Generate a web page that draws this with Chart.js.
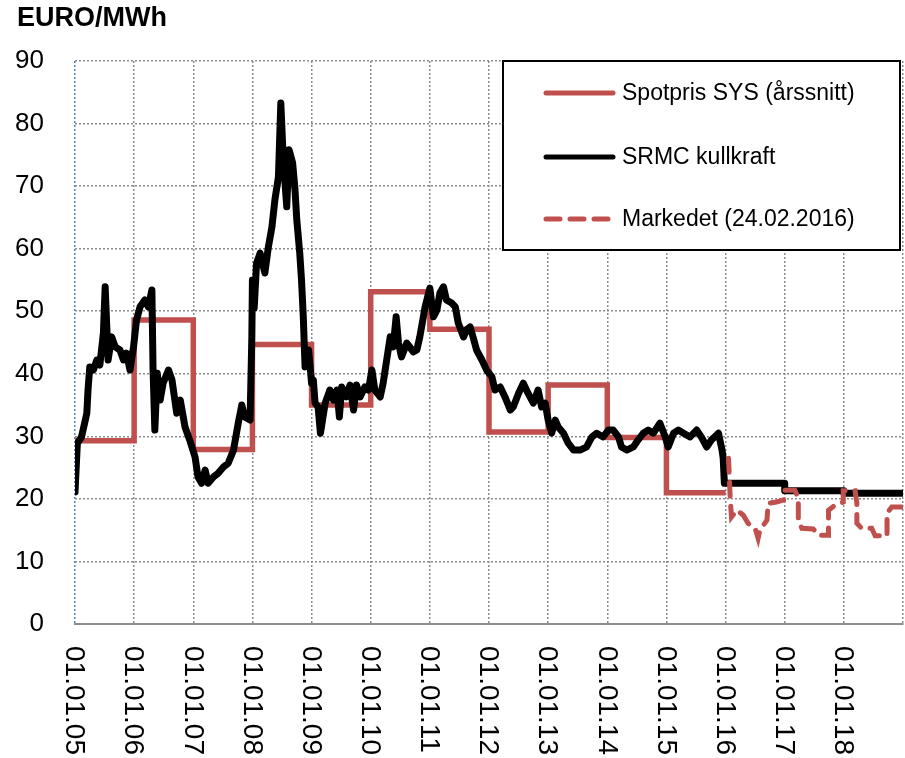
<!DOCTYPE html>
<html>
<head>
<meta charset="utf-8">
<script src="https://cdn.jsdelivr.net/npm/chart.js@4.4.1/dist/chart.umd.min.js"></script>
<style>
  html, body { margin: 0; padding: 0; background: #fff; }
</style>
</head>
<body>
<canvas id="priceChart" width="905" height="758"></canvas>
<script>
// Yearly average system price (value holds through the year)
const spotYears = [2005, 2006, 2007, 2008, 2009, 2010, 2011, 2012, 2013, 2014, 2015, 2016];
const spotValues = [29.3, 48.6, 27.9, 44.7, 35.0, 53.1, 47.1, 30.7, 38.2, 29.8, 21.0, 21.0];

// SRMC coal power (decimal year, EUR/MWh)
const srmcYears = [
  2005.00, 2005.04, 2005.11, 2005.20, 2005.22, 2005.25, 2005.31, 2005.37, 2005.42, 2005.48,
  2005.51, 2005.56, 2005.62, 2005.68, 2005.76, 2005.82, 2005.87, 2005.93, 2005.99, 2006.04,
  2006.10, 2006.18, 2006.24, 2006.30, 2006.32, 2006.35, 2006.39, 2006.44, 2006.49, 2006.58,
  2006.64, 2006.72, 2006.78, 2006.86, 2006.94, 2007.03, 2007.08, 2007.14, 2007.20, 2007.25,
  2007.34, 2007.42, 2007.51, 2007.59, 2007.68, 2007.76, 2007.82, 2007.87, 2007.96, 2007.99,
  2008.00, 2008.03, 2008.07, 2008.13, 2008.21, 2008.27, 2008.33, 2008.38, 2008.44, 2008.48,
  2008.52, 2008.58, 2008.62, 2008.68, 2008.72, 2008.75, 2008.80, 2008.83, 2008.86, 2008.89,
  2008.92, 2008.95, 2009.00, 2009.03, 2009.06, 2009.11, 2009.15, 2009.23, 2009.31, 2009.37,
  2009.43, 2009.47, 2009.51, 2009.59, 2009.65, 2009.71, 2009.76, 2009.82, 2009.90, 2009.96,
  2010.02, 2010.07, 2010.16, 2010.21, 2010.27, 2010.33, 2010.38, 2010.43, 2010.47, 2010.52,
  2010.61, 2010.66, 2010.72, 2010.78, 2010.83, 2010.92, 2011.00, 2011.06, 2011.12, 2011.17,
  2011.23, 2011.28, 2011.37, 2011.43, 2011.48, 2011.57, 2011.62, 2011.68, 2011.73, 2011.79,
  2011.88, 2011.96, 2012.05, 2012.10, 2012.19, 2012.27, 2012.36, 2012.41, 2012.50, 2012.58,
  2012.66, 2012.75, 2012.83, 2012.89, 2012.95, 2013.00, 2013.06, 2013.12, 2013.17, 2013.26,
  2013.34, 2013.43, 2013.54, 2013.65, 2013.74, 2013.82, 2013.93, 2014.02, 2014.10, 2014.19,
  2014.24, 2014.33, 2014.44, 2014.52, 2014.61, 2014.69, 2014.78, 2014.89, 2014.98, 2015.03,
  2015.12, 2015.20, 2015.29, 2015.40, 2015.51, 2015.59, 2015.68, 2015.76, 2015.88, 2015.94,
  2015.96, 2015.98, 2017.00, 2017.00, 2018.00, 2018.00, 2019.00
];
const srmcValues = [
  21.1, 28.9, 29.9, 33.7, 37.4, 41.1, 40.6, 42.2, 41.4, 46.5,
  53.9, 42.2, 45.9, 44.3, 43.8, 42.2, 43.3, 40.6, 44.3, 48.6,
  50.7, 51.8, 50.7, 53.4, 40.6, 31.0, 40.1, 35.8, 38.5, 40.6,
  39.0, 33.7, 35.8, 31.5, 29.4, 26.7, 23.5, 22.5, 24.6, 22.5,
  23.5, 24.1, 25.1, 25.7, 27.8, 32.1, 35.0, 33.1, 32.6, 45.9,
  55.0, 50.5, 57.7, 59.3, 56.1, 60.3, 63.5, 67.8, 71.5, 83.3,
  74.6, 66.7, 75.8, 73.7, 69.4, 64.6, 59.3, 55.0, 49.1, 41.1,
  42.2, 43.8, 38.5, 39.0, 35.3, 34.7, 30.5, 35.3, 37.4, 35.8,
  37.4, 33.1, 37.9, 36.3, 38.2, 34.2, 38.2, 36.3, 37.9, 37.4,
  40.6, 37.4, 36.3, 38.5, 42.2, 45.9, 44.3, 49.1, 44.9, 42.7,
  44.9, 44.3, 43.5, 43.8, 45.9, 50.7, 53.7, 49.1, 50.2, 52.9,
  53.9, 51.8, 51.3, 50.7, 48.1, 45.9, 47.0, 47.5, 45.9, 43.8,
  42.2, 40.6, 39.5, 37.4, 37.9, 36.3, 34.2, 34.7, 36.9, 38.5,
  36.9, 35.3, 37.4, 34.7, 35.3, 32.6, 30.5, 32.6, 31.5, 30.5,
  28.9, 27.8, 27.8, 28.3, 29.9, 30.5, 29.9, 31.0, 31.0, 29.9,
  28.3, 27.8, 28.3, 29.4, 30.5, 31.0, 30.5, 32.1, 29.9, 28.3,
  30.5, 31.0, 30.5, 29.9, 31.0, 29.9, 28.3, 29.4, 30.5, 27.8,
  26.5, 22.5, 22.5, 21.3, 21.3, 20.9, 20.9
];

// Market forwards as of 24.02.2016
const marketYears = [
  2016.05, 2016.08, 2016.10, 2016.19, 2016.30, 2016.38, 2016.50, 2016.55, 2016.58, 2016.70,
  2016.72, 2016.86, 2016.98, 2017.00, 2017.17, 2017.23, 2017.23, 2017.29, 2017.48, 2017.57,
  2017.74, 2017.74, 2017.85, 2017.99, 2017.99, 2018.19, 2018.22, 2018.22, 2018.30, 2018.47,
  2018.53, 2018.73, 2018.73, 2018.81, 2019.00
];
const marketValues = [
  26.5, 19.8, 17.1, 18.2, 17.4, 16.1, 15.3, 13.7, 15.0, 16.6,
  19.3, 19.5, 19.8, 21.4, 21.4, 20.1, 16.6, 15.3, 15.2, 14.2,
  14.2, 18.2, 19.0, 19.5, 21.3, 21.3, 19.3, 16.1, 15.3, 15.3,
  14.1, 14.1, 17.7, 18.7, 18.7
];

const tickYears = [2005, 2006, 2007, 2008, 2009, 2010, 2011, 2012, 2013, 2014, 2015, 2016, 2017, 2018];
const tickLabels = ['01.01.05', '01.01.06', '01.01.07', '01.01.08', '01.01.09', '01.01.10', '01.01.11',
                    '01.01.12', '01.01.13', '01.01.14', '01.01.15', '01.01.16', '01.01.17', '01.01.18'];

const seriesNames = ['Spotpris SYS (årssnitt)', 'SRMC kullkraft', 'Markedet (24.02.2016)'];
const RED = '#C0504D';
const FONT = '"Liberation Sans", Arial, sans-serif';

const toPoints = (xs, ys) => xs.map((x, i) => ({ x: x, y: ys[i] }));

// Axis title, rotated date labels and the boxed legend
const extrasPlugin = {
    id: 'extras',
    afterDraw(chart) {
        const ctx = chart.ctx;
        const xScale = chart.scales.x;
        const area = chart.chartArea;

        ctx.save();
        ctx.fillStyle = '#000';
        ctx.font = 'bold 27px ' + FONT;
        ctx.textBaseline = 'middle';
        ctx.fillText('EURO/MWh', 17, 19);

        // date labels read top to bottom
        ctx.font = '28px ' + FONT;
        ctx.textAlign = 'left';
        tickYears.forEach((yr, i) => {
            const x = xScale.getPixelForValue(yr);
            ctx.save();
            ctx.translate(x - 1, area.bottom + 22);
            ctx.rotate(Math.PI / 2);
            ctx.fillText(tickLabels[i], 0, 0);
            ctx.restore();
        });

        // legend box
        const bx = 503, by = area.top, bw = 397, bh = 189;
        ctx.fillStyle = '#fff';
        ctx.fillRect(bx, by, bw, bh);
        ctx.lineWidth = 2;
        ctx.strokeStyle = '#000';
        ctx.strokeRect(bx, by, bw, bh);

        const rows = [
            { y: by + 32, color: RED, dash: [] },
            { y: by + 96, color: '#000', dash: [] },
            { y: by + 158, color: RED, dash: [14, 10] }
        ];
        ctx.font = '23px ' + FONT;
        ctx.textAlign = 'left';
        ctx.textBaseline = 'middle';
        rows.forEach((row, i) => {
            ctx.beginPath();
            ctx.lineWidth = 5;
            ctx.lineCap = 'round';
            ctx.strokeStyle = row.color;
            ctx.setLineDash(row.dash);
            ctx.moveTo(546, row.y);
            ctx.lineTo(613, row.y);
            ctx.stroke();
            ctx.setLineDash([]);
            ctx.fillStyle = '#000';
            ctx.fillText(seriesNames[i], 622, row.y + 1);
        });
        ctx.restore();
    }
};

const ctx = document.getElementById('priceChart').getContext('2d');
new Chart(ctx, {
    type: 'line',
    data: {
        datasets: [
            {
                label: seriesNames[2],
                data: toPoints(marketYears, marketValues),
                borderColor: RED,
                borderWidth: 5,
                borderDash: [14, 10],
                borderCapStyle: 'round',
                pointRadius: 0,
                order: 0
            },
            {
                label: seriesNames[1],
                data: toPoints(srmcYears, srmcValues),
                borderColor: '#000',
                borderWidth: 7,
                borderJoinStyle: 'round',
                borderCapStyle: 'round',
                pointRadius: 0,
                order: 1
            },
            {
                label: seriesNames[0],
                data: toPoints(spotYears, spotValues),
                borderColor: RED,
                borderWidth: 5.5,
                stepped: true,
                pointRadius: 0,
                order: 2
            }
        ]
    },
    options: {
        responsive: false,
        animation: false,
        layout: {
            padding: { top: 61, left: 15, right: 2, bottom: 134 }
        },
        scales: {
            x: {
                type: 'linear',
                min: 2005,
                max: 2019,
                ticks: { stepSize: 1, display: false },
                grid: {
                    drawTicks: false,
                    lineWidth: 1.5,
                    color: c => (c.tick && c.tick.value === 2005) ? '#4F81BD' : '#8c8c8c'
                },
                border: { display: true, color: '#8c8c8c', width: 2, dash: [2, 2] }
            },
            y: {
                min: 0,
                max: 90,
                afterFit: scale => { scale.width = 60; },
                ticks: {
                    stepSize: 10,
                    padding: 31,
                    color: '#000',
                    font: { family: FONT, size: 26 }
                },
                grid: {
                    drawTicks: false,
                    lineWidth: 1.5,
                    color: '#8c8c8c'
                },
                border: { display: false, dash: [2, 2] }
            }
        },
        plugins: {
            legend: { display: false },
            title: { display: false },
            tooltip: { enabled: false }
        }
    },
    plugins: [extrasPlugin]
});
</script>
</body>
</html>
